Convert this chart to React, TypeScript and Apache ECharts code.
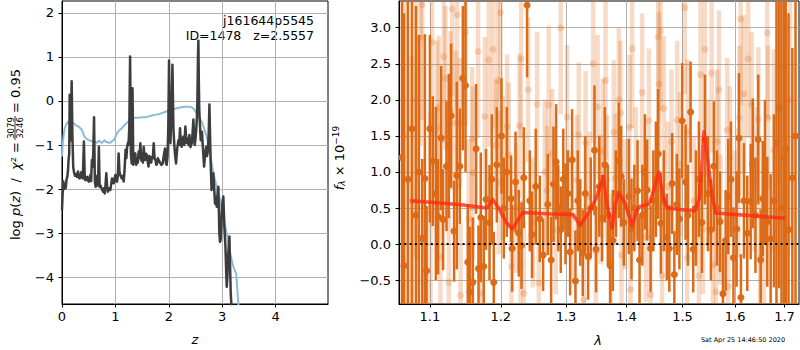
import React, { useEffect, useRef } from "react";
import * as echarts from "echarts";

const FONT = "DejaVu Sans";

// ---------- left panel: log p(z) ----------
const zTicks = [0, 1, 2, 3, 4];
const logpTicks = [-4, -3, -2, -1, 0, 1, 2];

const zChi = [
  0.000, 0.012, 0.025, 0.040, 0.055, 0.070, 0.085, 0.100, 0.112, 0.125,
  0.135, 0.144, 0.152, 0.165, 0.181, 0.195, 0.210, 0.225, 0.245, 0.262,
  0.280, 0.300, 0.315, 0.330, 0.345, 0.360, 0.375, 0.390, 0.410, 0.425,
  0.437, 0.455, 0.470, 0.485, 0.500, 0.515, 0.530, 0.545, 0.560, 0.570,
  0.585, 0.600, 0.615, 0.630, 0.645, 0.660, 0.675, 0.690, 0.705, 0.720,
  0.740, 0.755, 0.770, 0.785, 0.800, 0.815, 0.830, 0.845, 0.860, 0.880,
  0.905, 0.920, 0.936, 0.950, 0.970, 0.985, 1.000, 1.015, 1.030, 1.045,
  1.060, 1.075, 1.090, 1.105, 1.120, 1.140, 1.155, 1.170, 1.190, 1.205,
  1.220, 1.235, 1.245, 1.260, 1.275, 1.290, 1.305, 1.320, 1.335, 1.350,
  1.373, 1.390, 1.405, 1.420, 1.435, 1.450, 1.467, 1.485, 1.500, 1.515,
  1.530, 1.545, 1.560, 1.575, 1.590, 1.605, 1.620, 1.637, 1.654, 1.670,
  1.685, 1.700, 1.717, 1.733, 1.750, 1.765, 1.780, 1.795, 1.810, 1.835,
  1.860, 1.885, 1.910, 1.930, 1.945, 1.960, 1.975, 1.990, 2.004, 2.018,
  2.030, 2.050, 2.068, 2.085, 2.097, 2.115, 2.135, 2.155, 2.180, 2.195,
  2.210, 2.225, 2.240, 2.255, 2.270, 2.290, 2.310, 2.330, 2.350, 2.370,
  2.385, 2.405, 2.430, 2.446, 2.460, 2.475, 2.485, 2.500, 2.510, 2.525,
  2.535, 2.546, 2.553, 2.562, 2.570, 2.585, 2.597, 2.610, 2.620, 2.640,
  2.660, 2.680, 2.700, 2.715, 2.730, 2.745, 2.760, 2.772, 2.784, 2.800,
  2.817, 2.834, 2.850, 2.865, 2.880, 2.896, 2.912, 2.927, 2.937, 2.946,
  2.958, 2.970, 2.980, 2.990, 3.005, 3.020, 3.030, 3.040, 3.050, 3.060,
  3.072, 3.084, 3.096, 3.109, 3.122, 3.134, 3.146, 3.159, 3.170, 3.185,
  3.200,
];
const logpChi = [
  -2.48, -2.10, -1.83, -2.00, -1.90, -1.98, -1.78, -1.72, -1.58, -1.30,
  -1.20, 0.14, -0.90, -0.60, 0.45, -0.80, -1.50, -1.62, -1.70, -1.66,
  -1.72, -1.60, -1.74, -1.76, -1.70, -1.62, -1.74, -1.76, -0.92, -1.70,
  -1.80, -1.74, -1.72, -1.80, -1.83, -1.76, -1.68, -1.82, -1.34, -1.50,
  -1.20, -0.37, -1.83, -1.95, -1.90, -1.70, -1.92, -1.04, -1.95, -1.92,
  -1.98, -2.02, -2.06, -1.98, -2.10, -1.90, -1.64, -1.95, -2.06, -1.98,
  -2.02, -1.90, -1.76, -1.85, -1.87, -1.75, -1.68, -1.80, -1.83, -1.70,
  -1.19, -1.60, -1.68, -1.72, -1.76, -1.70, -1.83, -1.60, -1.11, -1.30,
  -1.04, -0.95, -1.00, -0.60, 1.01, -1.20, -1.42, 0.29, -1.45, -1.30,
  -1.19, -1.45, -1.34, -1.40, -1.15, -1.30, -0.96, -1.35, -1.27, -1.40,
  -1.04, -1.30, -1.34, -1.20, -1.23, -1.38, -1.49, -1.25, -1.30, -1.40,
  -1.27, -1.30, -0.96, -1.30, -1.34, -1.45, -1.42, -1.30, -1.34, -1.40,
  -1.45, -1.42, -1.20, -1.08, -1.40, -1.45, -1.27, -0.60, 0.92, -0.80,
  -0.96, -0.20, 0.82, -0.60, -0.89, -1.20, -1.42, -1.10, -0.89, -1.00,
  -0.62, -0.95, -1.04, -0.90, -0.81, -1.00, -0.58, -0.95, -0.85, -1.00,
  -0.77, -1.05, -0.96, -0.70, -0.42, -0.85, -1.00, -0.85, -0.70, -0.40,
  0.02, 1.00, 1.37, 0.40, -0.20, -0.60, -0.89, -0.80, -0.70, -1.10,
  -1.49, -1.20, -1.04, -1.25, -1.15, -0.80, -0.08, -0.80, -1.42, -2.02,
  -1.80, -1.64, -2.00, -2.33, -2.20, -2.40, -2.10, -1.95, -2.50, -3.01,
  -3.20, -3.16, -2.90, -2.55, -2.30, -2.17, -2.50, -2.86, -3.10, -3.31,
  -3.80, -4.22, -4.00, -3.54, -3.30, -3.08, -3.70, -4.37, -4.60, -4.90,
  -5.20,
];

const zPrior = [
  0.000, 0.015, 0.030, 0.050, 0.075, 0.100, 0.125, 0.160, 0.187, 0.220,
  0.250, 0.310, 0.375, 0.420, 0.460, 0.500, 0.550, 0.590, 0.630, 0.655,
  0.680, 0.700, 0.725, 0.750, 0.775, 0.800, 0.820, 0.840, 0.870, 0.905,
  0.940, 0.970, 1.000, 1.030, 1.070, 1.120, 1.170, 1.220, 1.260, 1.310,
  1.370, 1.435, 1.500, 1.560, 1.620, 1.685, 1.750, 1.810, 1.880, 1.950,
  2.022, 2.100, 2.210, 2.300, 2.398, 2.460, 2.520, 2.570, 2.615, 2.660,
  2.710, 2.770, 2.834, 2.896, 2.960, 3.020, 3.084, 3.147, 3.210, 3.260,
  3.290, 3.310,
];
const logpPrior = [
  -1.26, -0.95, -0.78, -0.62, -0.55, -0.49, -0.47, -0.46, -0.47, -0.50,
  -0.55, -0.58, -0.66, -0.81, -0.86, -0.89, -0.91, -0.92, -0.93, -0.95,
  -0.91, -0.90, -0.94, -0.95, -0.91, -0.89, -0.93, -0.93, -0.95, -0.95,
  -0.91, -0.89, -0.82, -0.73, -0.67, -0.62, -0.55, -0.49, -0.44, -0.39,
  -0.38, -0.38, -0.37, -0.37, -0.35, -0.33, -0.31, -0.30, -0.27, -0.24,
  -0.20, -0.18, -0.15, -0.13, -0.13, -0.17, -0.28, -0.38, -0.47, -0.62,
  -0.81, -1.19, -1.64, -1.95, -2.25, -2.63, -3.01, -3.46, -3.77, -3.92,
  -4.40, -4.80,
];

// ---------- right panel: spectrum ----------
const lamTicks = [1.1, 1.2, 1.3, 1.4, 1.5, 1.6, 1.7];
const fluxTicks = [-0.5, 0, 0.5, 1, 1.5, 2, 2.5, 3];

const lamA = [
  1.0629, 1.0655, 1.0707, 1.0759, 1.0812, 1.0852, 1.0896, 1.0932, 1.0955, 1.0999,
  1.1039, 1.1080, 1.1111, 1.1152, 1.1179, 1.1226, 1.1258, 1.1290, 1.1331, 1.1369,
  1.1411, 1.1453, 1.1491, 1.1524, 1.1556, 1.1595, 1.1642, 1.1676, 1.1708, 1.1751,
  1.1785, 1.1835, 1.1868, 1.1897, 1.1941, 1.2010, 1.2044, 1.2089, 1.2153, 1.2168,
  1.2219, 1.2268, 1.2309, 1.2344, 1.2394, 1.2435, 1.2470, 1.2526, 1.2588, 1.2640,
  1.2713, 1.2765, 1.2802, 1.2843, 1.2877, 1.2917, 1.2957, 1.2992, 1.3029, 1.3066,
  1.3098, 1.3152, 1.3190, 1.3230, 1.3271, 1.3312, 1.3358, 1.3402, 1.3463, 1.3489,
  1.3543, 1.3589, 1.3635, 1.3685, 1.3727, 1.3769, 1.3820, 1.3871, 1.3910, 1.3957,
  1.4043, 1.4089, 1.4138, 1.4194, 1.4229, 1.4278, 1.4322, 1.4362, 1.4423, 1.4472,
  1.4517, 1.4558, 1.4606, 1.4660, 1.4714, 1.4759, 1.4810, 1.4850, 1.4896, 1.4942,
  1.4993, 1.5056, 1.5099, 1.5149, 1.5198, 1.5248, 1.5304, 1.5361, 1.5418, 1.5475,
  1.5532, 1.5589, 1.5647, 1.5705, 1.5763, 1.5815, 1.5866, 1.5919, 1.5968, 1.6030,
  1.6076, 1.6115, 1.6175, 1.6241, 1.6309, 1.6351, 1.6405, 1.6462, 1.6510, 1.6553,
  1.6598, 1.6645, 1.6714, 1.6782, 1.6834, 1.6886, 1.6938, 1.6990, 1.7026, 1.7085,
  1.7165, 1.7232,
];
const fluxA = [
  1.20, -0.30, 0.90, 1.60, 0.40, 1.00, 0.08, 0.91, -0.37, 1.60,
  1.15, 0.70, 0.38, 1.47, 0.34, 1.08, 1.36, 1.78, 0.18, 0.95,
  1.08, 2.30, 2.20, -0.25, -0.66, -0.53, 1.32, -0.34, 0.37, -0.31,
  0.62, 0.30, 0.90, -0.53, 1.10, 1.50, 0.50, 1.00, 0.63, -0.06,
  0.86, 0.15, -0.02, 0.92, 3.31, 0.60, 0.13, 0.80, 0.35, -0.15,
  0.55, -0.22, 0.83, 1.14, 0.50, 0.20, 0.90, 0.42, 0.70, -0.11,
  1.17, -0.51, 0.60, 0.30, -0.12, 0.70, -0.17, 0.50, 1.30, -0.07,
  0.80, 0.36, 1.10, 0.40, -0.30, 0.05, 0.70, 1.16, 0.94, 0.30,
  0.66, 0.21, 0.50, 0.74, -0.22, 0.40, 1.00, 0.75, -0.06, 0.60,
  0.90, 1.25, 0.29, 0.60, 0.10, -0.06, 0.84, -0.42, 0.55, 0.35,
  1.71, 0.86, 0.40, 1.83, -0.07, 0.50, 0.90, 0.30, 1.45, 0.70,
  0.20, 1.08, 0.50, 0.31, -0.69, 0.05, 0.66, 0.90, -0.19, 0.21,
  1.47, -0.74, 0.60, 0.15, 0.59, 1.12, 0.40, 1.45, -0.22, 0.63,
  1.00, 0.31, 0.07, 0.60, 1.40, 1.89, 0.50, 1.20, 1.32, 0.20,
  0.92, 1.50,
];
const errA = [
  3.0, 3.5, 2.8, 3.2, 2.9, 1.9, 1.1, 2.0, 0.9, 1.3,
  0.9, 1.2, 0.8, 1.0, 0.7, 0.9, 1.0, 1.0, 0.7, 1.3,
  0.8, 1.0, 1.2, 0.8, 0.9, 0.9, 0.9, 0.6, 0.9, 0.7,
  0.7, 0.8, 0.9, 0.7, 0.8, 0.8, 0.7, 0.9, 0.6, 0.6,
  0.7, 0.6, 0.6, 0.7, 1.0, 0.7, 0.6, 0.8, 0.6, 0.5,
  0.7, 0.6, 0.8, 0.8, 0.6, 0.6, 0.7, 0.7, 0.6, 0.6,
  0.7, 0.7, 0.7, 0.6, 0.6, 0.8, 0.6, 0.7, 0.9, 0.6,
  0.7, 0.6, 0.8, 0.7, 0.6, 0.7, 0.6, 0.8, 0.7, 0.6,
  0.8, 0.7, 0.6, 0.7, 0.6, 0.7, 0.8, 0.7, 0.6, 0.7,
  0.8, 0.9, 0.7, 0.7, 0.6, 0.6, 0.7, 0.6, 0.7, 0.7,
  0.8, 0.8, 0.7, 0.7, 0.6, 0.8, 0.8, 0.7, 0.9, 0.8,
  0.7, 0.9, 0.8, 0.7, 0.7, 0.7, 0.8, 0.8, 0.7, 0.8,
  0.9, 0.6, 0.8, 0.8, 0.8, 0.9, 0.8, 0.9, 0.7, 0.8,
  1.0, 0.9, 0.9, 1.2, 2.5, 2.5, 3.0, 3.5, 2.5, 3.0,
  1.8, 3.0,
];

const lamB = [
  1.0668, 1.0759, 1.0812, 1.0875, 1.0896, 1.1008, 1.1030, 1.1097, 1.1120, 1.1143,
  1.1189, 1.1213, 1.1258, 1.1282, 1.1304, 1.1351, 1.1373, 1.1411, 1.1421, 1.1491,
  1.1538, 1.1585, 1.1595, 1.1670, 1.1704, 1.1767, 1.1825, 1.1887, 1.1931, 1.1956,
  1.1970, 1.1995, 1.2030, 1.2093, 1.2118, 1.2158, 1.2223, 1.2278, 1.2294, 1.2303,
  1.2344, 1.2409, 1.2481, 1.2547, 1.2572, 1.2666, 1.2702, 1.2728, 1.2781, 1.2838,
  1.2917, 1.3018, 1.3093, 1.3178, 1.3206, 1.3288, 1.3316, 1.3381, 1.3441, 1.3485,
  1.3514, 1.3563, 1.3601, 1.3647, 1.3669, 1.3731, 1.3786, 1.3815, 1.3871, 1.3900,
  1.3917, 1.3974, 1.4055, 1.4072, 1.4100, 1.4164, 1.4275, 1.4340, 1.4392, 1.4423,
  1.4558, 1.4570, 1.4600, 1.4629, 1.4660, 1.4732, 1.4799, 1.4901, 1.4951, 1.5043,
  1.5086, 1.5094, 1.5210, 1.5304, 1.5336, 1.5380, 1.5418, 1.5475, 1.5546, 1.5570,
  1.5628, 1.5653, 1.5686, 1.5714, 1.5846, 1.5866, 1.5899, 1.5997, 1.6063, 1.6086,
  1.6109, 1.6175, 1.6261, 1.6329, 1.6395, 1.6462, 1.6496, 1.6578, 1.6645, 1.6659,
  1.6782, 1.6901, 1.7038, 1.7116,
];
const fluxB = [
  1.50, 0.60, 2.00, 2.86, 3.32, 0.43, 2.80, 1.62, 1.89, -0.18,
  2.60, 2.30, -0.53, 1.85, 3.26, 1.68, 3.18, 1.68, -0.71, 2.94,
  0.35, 1.46, 0.99, 2.67, -0.68, 1.77, 2.55, 2.70, 1.37, 2.27,
  0.86, 3.21, 1.05, 1.63, 1.24, -0.31, 0.50, 1.64, -0.29, 2.57,
  -0.68, 2.14, 0.30, 1.94, -0.54, 1.00, 0.74, 1.93, 1.25, 0.20,
  3.00, 1.76, 0.40, 0.89, 1.52, -0.77, 1.40, 0.66, 2.50, -0.10,
  1.90, 0.62, 1.29, 2.27, 0.89, -0.31, 1.55, 0.91, 2.00, 1.82,
  -0.15, 0.55, 1.62, -0.63, 2.71, 1.00, 2.10, 0.10, 1.71, -0.70,
  2.87, 2.22, 2.95, -0.44, 1.88, 0.80, 1.42, 1.72, 1.11, 3.28,
  -0.19, 1.56, 0.60, -0.44, 2.35, 0.21, 2.70, 1.00, 2.37, -0.29,
  -0.66, 1.42, 2.14, 0.34, 1.58, -0.59, 1.19, 0.40, 0.71, 1.75,
  3.12, 2.08, 2.57, 1.94, 0.90, 1.73, -0.19, 0.10, 2.93, 1.75,
  1.30, 2.44, -0.12, 2.00,
];
const errB = [
  2.5, 2.0, 2.2, 1.5, 1.6, 1.4, 1.3, 1.2, 1.0, 1.1,
  1.2, 1.0, 1.0, 1.1, 1.2, 1.0, 1.3, 0.9, 1.0, 1.3,
  1.1, 1.0, 1.2, 1.2, 1.0, 1.1, 1.2, 1.1, 0.9, 1.1,
  1.0, 1.2, 1.0, 1.0, 1.0, 0.9, 0.9, 1.0, 0.9, 1.1,
  1.0, 1.0, 0.9, 1.0, 0.9, 1.0, 0.9, 1.1, 0.9, 0.9,
  1.2, 1.0, 0.9, 0.9, 1.0, 0.9, 1.0, 0.9, 1.1, 0.9,
  1.0, 0.9, 1.0, 1.1, 0.9, 1.0, 1.0, 0.9, 1.0, 1.0,
  0.9, 0.9, 1.0, 0.9, 1.1, 0.9, 1.1, 0.9, 1.0, 0.9,
  1.2, 1.0, 1.1, 1.0, 1.0, 0.9, 1.0, 1.1, 1.0, 1.2,
  1.0, 1.0, 0.9, 1.0, 1.1, 0.9, 1.1, 1.0, 1.1, 1.0,
  0.9, 1.0, 1.1, 0.9, 1.0, 0.9, 1.0, 0.9, 0.9, 1.0,
  1.2, 1.1, 1.1, 1.0, 1.0, 1.0, 0.9, 1.0, 1.2, 1.0,
  1.4, 1.6, 1.5, 2.0,
];

const lamModel = [
  1.074, 1.100, 1.140, 1.180, 1.188, 1.198, 1.208, 1.217, 1.225, 1.233,
  1.269, 1.311, 1.323, 1.335, 1.344, 1.352, 1.361, 1.367, 1.376, 1.381,
  1.387, 1.397, 1.410, 1.418, 1.423, 1.440, 1.450, 1.457, 1.465, 1.472,
  1.482, 1.522, 1.531, 1.536, 1.540, 1.545, 1.550, 1.556, 1.562, 1.701,
];
const fluxModel = [
  0.60, 0.58, 0.55, 0.50, 0.62, 0.48, 0.30, 0.21, 0.33, 0.44,
  0.42, 0.41, 0.26, 0.42, 0.55, 0.70, 0.94, 0.55, 0.22, 0.55,
  0.71, 0.58, 0.26, 0.46, 0.52, 0.56, 0.80, 1.00, 0.65, 0.50,
  0.49, 0.46, 0.62, 1.10, 1.56, 1.30, 0.99, 0.65, 0.43, 0.36,
];

const ORANGE = "#dc6a16";
const ORANGE_LIGHT = "rgba(220,106,22,0.24)";

const minus = (s: string) => s.replace("-", "\u2212");

function errRender(color: string, barW: number, r: number) {
  return (params: any, api: any) => {
    const x = api.value(0);
    const y = api.value(1);
    const e = api.value(2);
    const c = api.coord([x, y]);
    const t = api.coord([x, y + e]);
    const b = api.coord([x, y - e]);
    const cs = params.coordSys;
    const top = Math.max(t[1], cs.y);
    const bot = Math.min(b[1], cs.y + cs.height);
    const children: any[] = [];
    if (bot > top) {
      children.push({
        type: "rect",
        shape: { x: c[0] - barW / 2, y: top, width: barW, height: bot - top },
        style: { fill: color },
      });
    }
    if (c[1] >= cs.y && c[1] <= cs.y + cs.height) {
      children.push({ type: "circle", shape: { cx: c[0], cy: c[1], r }, style: { fill: color } });
    }
    return { type: "group", children };
  };
}

function axisBase(ticks: number[], fmt: (v: number) => string, margin: number) {
  return {
    type: "value",
    axisLine: { show: true, onZero: false, lineStyle: { color: "#000", width: 1 } },
    axisTick: { show: true, inside: false, length: 3.5, customValues: ticks, lineStyle: { color: "#000", width: 1 } },
    axisLabel: { show: true, customValues: ticks, formatter: fmt, color: "#000", fontSize: 13, fontFamily: FONT, margin },
    splitLine: { show: true, lineStyle: { color: "#b0b0b0", width: 1 } },
  };
}

export default function App() {
  const ref = useRef<HTMLDivElement>(null);
  useEffect(() => {
    const chart = echarts.init(ref.current!, null, { renderer: "svg" });
    const logLamTicks = lamTicks.map((v) => Math.log10(v));
    const option: any = {
      animation: false,
      backgroundColor: "#ffffff",
      grid: [
        { left: 62, top: 1, width: 266, height: 303, show: true, borderColor: "#000", borderWidth: 1, backgroundColor: "transparent" },
        { left: 399, top: 1, width: 400, height: 303, show: true, borderColor: "#000", borderWidth: 1, backgroundColor: "transparent" },
      ],
      xAxis: [
        { ...axisBase(zTicks, (v: number) => String(v), 6), gridIndex: 0, min: 0, max: 4.98 },
        {
          ...axisBase(logLamTicks, (v: number) => Math.pow(10, v).toFixed(1), 6),
          gridIndex: 1,
          min: Math.log10(1.059),
          max: Math.log10(1.7306),
        },
      ],
      yAxis: [
        { ...axisBase(logpTicks, (v: number) => minus(String(v)), 8), gridIndex: 0, min: -4.61, max: 2.27 },
        { ...axisBase(fluxTicks, (v: number) => minus(v.toFixed(1)), 8), gridIndex: 1, min: -0.83, max: 3.37 },
      ],
      series: [
        {
          type: "line",
          xAxisIndex: 0,
          yAxisIndex: 0,
          data: zPrior.map((z, i) => [z, logpPrior[i]]),
          showSymbol: false,
          clip: true,
          lineStyle: { color: "#8fbbd9", width: 2 },
          z: 2,
        },
        {
          type: "line",
          xAxisIndex: 0,
          yAxisIndex: 0,
          data: zChi.map((z, i) => [z, logpChi[i]]),
          showSymbol: false,
          clip: true,
          lineStyle: { color: "#3d3d3d", width: 2.5, join: "round" },
          z: 3,
        },
        {
          type: "custom",
          xAxisIndex: 1,
          yAxisIndex: 1,
          clip: true,
          data: lamB.map((l, i) => [Math.log10(l), fluxB[i], errB[i]]),
          encode: { x: 0, y: 1 },
          renderItem: errRender(ORANGE_LIGHT, 4.5, 3.5),
          z: 2,
        },
        {
          type: "custom",
          xAxisIndex: 1,
          yAxisIndex: 1,
          clip: true,
          data: lamA.map((l, i) => [Math.log10(l), fluxA[i], errA[i]]),
          encode: { x: 0, y: 1 },
          renderItem: errRender(ORANGE, 2.5, 3.5),
          z: 3,
        },
        {
          type: "line",
          xAxisIndex: 1,
          yAxisIndex: 1,
          data: lamModel.map((l, i) => [Math.log10(l), fluxModel[i]]),
          showSymbol: false,
          clip: true,
          lineStyle: { color: "#ff2a14", width: 3.5, opacity: 0.8, join: "round" },
          z: 4,
          markLine: {
            silent: true,
            symbol: ["none", "none"],
            label: { show: false },
            lineStyle: { color: "#000", width: 2, type: [2, 3.3], opacity: 1 },
            data: [{ yAxis: 0 }],
          },
        },
      ],
      graphic: [
        {
          type: "text",
          x: 314,
          y: 20,
          style: { text: "j161644p5545", align: "right", verticalAlign: "middle", fontSize: 12.5, fontFamily: FONT, fill: "#000" },
        },
        {
          type: "text",
          x: 314,
          y: 35,
          style: { text: "ID=1478   z=2.5557", align: "right", verticalAlign: "middle", fontSize: 12.5, fontFamily: FONT, fill: "#000" },
        },
        {
          type: "text",
          x: 15,
          y: 240,
          rotation: Math.PI / 2,
          style: {
            text: "{n|log }{i|p}{n|(}{i|z}{n|)  /  }{i|χ}{n|² =}",
            align: "left",
            verticalAlign: "middle",
            fill: "#000",
            rich: {
              n: { fontSize: 13, fontFamily: FONT, fill: "#000" },
              i: { fontSize: 13, fontFamily: FONT, fontStyle: "italic", fill: "#000" },
            },
          },
        },
        {
          type: "text",
          x: 10.5,
          y: 128,
          rotation: Math.PI / 2,
          style: { text: "3079", align: "center", verticalAlign: "middle", fontSize: 8.5, fontFamily: FONT, fill: "#000" },
        },
        {
          type: "text",
          x: 19.5,
          y: 128,
          rotation: Math.PI / 2,
          style: { text: "3246", align: "center", verticalAlign: "middle", fontSize: 8.5, fontFamily: FONT, fill: "#000" },
        },
        {
          type: "line",
          shape: { x1: 15, y1: 140, x2: 15, y2: 116 },
          style: { stroke: "#000", lineWidth: 0.8 },
        },
        {
          type: "text",
          x: 15,
          y: 113,
          rotation: Math.PI / 2,
          style: { text: "= 0.95", align: "left", verticalAlign: "middle", fontSize: 13, fontFamily: FONT, fill: "#000" },
        },
        {
          type: "text",
          x: 339,
          y: 158,
          rotation: Math.PI / 2,
          style: {
            text: "{i|f}{s|λ}{n| × 10}{p|−19}",
            align: "center",
            verticalAlign: "middle",
            fill: "#000",
            rich: {
              n: { fontSize: 13, fontFamily: FONT, fill: "#000" },
              i: { fontSize: 13, fontFamily: FONT, fontStyle: "italic", fill: "#000" },
              s: { fontSize: 9, fontFamily: FONT, fontStyle: "italic", fill: "#000", verticalAlign: "bottom", padding: [6, 0, 0, 0] },
              p: { fontSize: 9, fontFamily: FONT, fill: "#000", verticalAlign: "top", padding: [0, 0, 6, 0] },
            },
          },
        },
        {
          type: "text",
          x: 195,
          y: 339,
          style: { text: "z", align: "center", verticalAlign: "middle", fontSize: 13, fontStyle: "italic", fontFamily: FONT, fill: "#000" },
        },
        {
          type: "text",
          x: 598,
          y: 340,
          style: { text: "λ", align: "center", verticalAlign: "middle", fontSize: 13, fontStyle: "italic", fontFamily: FONT, fill: "#000" },
        },
        {
          type: "text",
          x: 743,
          y: 340,
          style: { text: "Sat Apr 25 14:46:50 2020", align: "center", verticalAlign: "middle", fontSize: 6.5, fontFamily: FONT, fill: "#000" },
        },
      ],
    };
    chart.setOption(option);
    return () => chart.dispose();
  }, []);
  return (
    <div
      ref={ref}
      style={{ position: "fixed", left: 0, top: 0, width: 800, height: 350, background: "#fff" }}
    />
  );
}
